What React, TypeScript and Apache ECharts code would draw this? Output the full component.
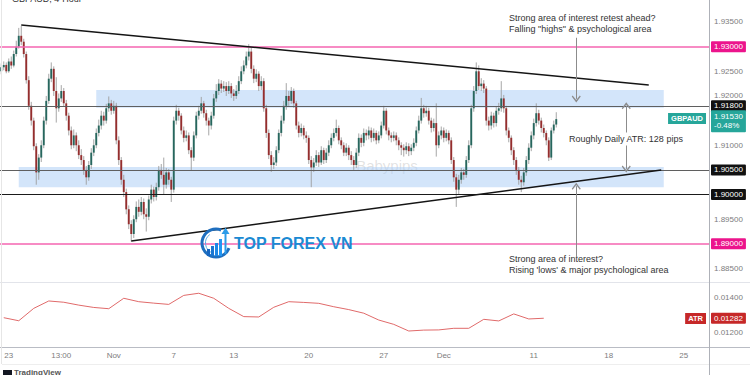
import React, { useEffect, useRef } from "react";
import * as echarts from "echarts";

const barCount = 284;
const xTickIndex = [3, 24, 45, 69, 93, 123, 153, 177, 213, 243, 273];
const xTickText = ["23", "13:00", "Nov", "7", "13", "20", "27", "Dec", "11", "18", "25"];

const priceMin = 1.88247;
const priceMax = 1.93946;
const priceTickLabels = [1.935, 1.925, 1.92, 1.91, 1.895, 1.885];
const atrMin = 0.01122;
const atrMax = 0.01478;
const atrTickLabels = [0.012, 0.014];

// GBPAUD 4-hour candles: [open, high, low, close]
const candles: number[][] = [
  [1.9250, 1.9266, 1.9244, 1.9258], [1.9258, 1.9270, 1.9252, 1.9263], [1.9263, 1.9268, 1.9246, 1.9250], [1.9250, 1.9276, 1.9247, 1.9270],
  [1.9270, 1.9280, 1.9255, 1.9262], [1.9262, 1.9292, 1.9258, 1.9285], [1.9285, 1.9312, 1.9280, 1.9300], [1.9300, 1.9338, 1.9296, 1.9322],
  [1.9322, 1.9342, 1.9303, 1.9310], [1.9310, 1.9316, 1.9278, 1.9285], [1.9285, 1.9290, 1.9225, 1.9232], [1.9232, 1.9240, 1.9172, 1.9180],
  [1.9180, 1.9188, 1.9140, 1.9150], [1.9150, 1.9156, 1.9090, 1.9098], [1.9098, 1.9104, 1.9020, 1.9045], [1.9045, 1.9082, 1.9030, 1.9075],
  [1.9075, 1.9110, 1.9066, 1.9100], [1.9100, 1.9158, 1.9094, 1.9150], [1.9150, 1.9200, 1.9142, 1.9190], [1.9190, 1.9245, 1.9184, 1.9235],
  [1.9235, 1.9268, 1.9228, 1.9255], [1.9255, 1.9260, 1.9200, 1.9210], [1.9210, 1.9238, 1.9146, 1.9175], [1.9175, 1.9205, 1.9168, 1.9195],
  [1.9195, 1.9222, 1.9188, 1.9210], [1.9210, 1.9216, 1.9178, 1.9185], [1.9185, 1.9192, 1.9150, 1.9160], [1.9160, 1.9166, 1.9120, 1.9130],
  [1.9130, 1.9138, 1.9092, 1.9100], [1.9100, 1.9132, 1.9094, 1.9120], [1.9120, 1.9126, 1.9088, 1.9100], [1.9100, 1.9110, 1.9072, 1.9080],
  [1.9080, 1.9092, 1.9060, 1.9070], [1.9070, 1.9078, 1.9040, 1.9050], [1.9050, 1.9058, 1.9020, 1.9035], [1.9035, 1.9068, 1.9028, 1.9060],
  [1.9060, 1.9094, 1.9052, 1.9085], [1.9085, 1.9112, 1.9078, 1.9100], [1.9100, 1.9134, 1.9094, 1.9125], [1.9125, 1.9152, 1.9118, 1.9140],
  [1.9140, 1.9170, 1.9132, 1.9160], [1.9160, 1.9168, 1.9140, 1.9150], [1.9150, 1.9184, 1.9144, 1.9175], [1.9175, 1.9199, 1.9168, 1.9185],
  [1.9185, 1.9192, 1.9162, 1.9170], [1.9170, 1.9190, 1.9164, 1.9180], [1.9180, 1.9186, 1.9102, 1.9110], [1.9110, 1.9118, 1.9060, 1.9070],
  [1.9070, 1.9076, 1.9020, 1.9030], [1.9030, 1.9040, 1.8995, 1.9005], [1.9005, 1.9012, 1.8960, 1.8970], [1.8970, 1.8978, 1.8930, 1.8940],
  [1.8940, 1.8948, 1.8905, 1.8920], [1.8920, 1.8958, 1.8912, 1.8950], [1.8950, 1.8986, 1.8944, 1.8975], [1.8975, 1.8990, 1.8955, 1.8965],
  [1.8965, 1.8995, 1.8958, 1.8985], [1.8985, 1.8992, 1.8950, 1.8960], [1.8960, 1.8972, 1.8925, 1.8955], [1.8955, 1.8998, 1.8948, 1.8990],
  [1.8990, 1.9020, 1.8982, 1.9010], [1.9010, 1.9016, 1.8986, 1.8995], [1.8995, 1.9024, 1.8988, 1.9015], [1.9015, 1.9058, 1.9008, 1.9050],
  [1.9050, 1.9062, 1.9032, 1.9040], [1.9040, 1.9075, 1.9000, 1.9020], [1.9020, 1.9054, 1.9012, 1.9045], [1.9045, 1.9052, 1.9020, 1.9030],
  [1.9030, 1.9036, 1.8985, 1.9010], [1.9010, 1.9158, 1.9004, 1.9150], [1.9150, 1.9182, 1.9142, 1.9170], [1.9170, 1.9176, 1.9150, 1.9160],
  [1.9160, 1.9165, 1.9122, 1.9130], [1.9130, 1.9138, 1.9106, 1.9115], [1.9115, 1.9130, 1.9108, 1.9120], [1.9120, 1.9126, 1.9082, 1.9090],
  [1.9090, 1.9096, 1.9048, 1.9075], [1.9075, 1.9128, 1.9068, 1.9120], [1.9120, 1.9168, 1.9114, 1.9160], [1.9160, 1.9180, 1.9152, 1.9170],
  [1.9170, 1.9198, 1.9164, 1.9185], [1.9185, 1.9190, 1.9156, 1.9165], [1.9165, 1.9172, 1.9140, 1.9150], [1.9150, 1.9156, 1.9120, 1.9140],
  [1.9140, 1.9168, 1.9132, 1.9160], [1.9160, 1.9204, 1.9154, 1.9195], [1.9195, 1.9224, 1.9188, 1.9210], [1.9210, 1.9234, 1.9202, 1.9225],
  [1.9225, 1.9232, 1.9206, 1.9215], [1.9215, 1.9230, 1.9208, 1.9220], [1.9220, 1.9228, 1.9200, 1.9210], [1.9210, 1.9230, 1.9204, 1.9220],
  [1.9220, 1.9226, 1.9196, 1.9205], [1.9205, 1.9214, 1.9190, 1.9200], [1.9200, 1.9222, 1.9194, 1.9210], [1.9210, 1.9240, 1.9204, 1.9230],
  [1.9230, 1.9260, 1.9224, 1.9250], [1.9250, 1.9272, 1.9244, 1.9262], [1.9262, 1.9290, 1.9256, 1.9280], [1.9280, 1.9305, 1.9272, 1.9290],
  [1.9290, 1.9298, 1.9246, 1.9255], [1.9255, 1.9262, 1.9226, 1.9235], [1.9235, 1.9254, 1.9228, 1.9245], [1.9245, 1.9250, 1.9210, 1.9220],
  [1.9220, 1.9240, 1.9212, 1.9230], [1.9230, 1.9236, 1.9168, 1.9175], [1.9175, 1.9182, 1.9115, 1.9125], [1.9125, 1.9132, 1.9072, 1.9080],
  [1.9080, 1.9088, 1.9046, 1.9060], [1.9060, 1.9076, 1.9052, 1.9065], [1.9065, 1.9098, 1.9058, 1.9090], [1.9090, 1.9132, 1.9084, 1.9125],
  [1.9125, 1.9160, 1.9118, 1.9150], [1.9150, 1.9190, 1.9144, 1.9180], [1.9180, 1.9226, 1.9172, 1.9200], [1.9200, 1.9210, 1.9180, 1.9190],
  [1.9190, 1.9218, 1.9184, 1.9210], [1.9210, 1.9215, 1.9176, 1.9185], [1.9185, 1.9190, 1.9132, 1.9140], [1.9140, 1.9148, 1.9116, 1.9125],
  [1.9125, 1.9144, 1.9118, 1.9135], [1.9135, 1.9140, 1.9112, 1.9120], [1.9120, 1.9128, 1.9105, 1.9115], [1.9115, 1.9120, 1.9062, 1.9070],
  [1.9070, 1.9078, 1.9015, 1.9055], [1.9055, 1.9074, 1.9046, 1.9065], [1.9065, 1.9090, 1.9058, 1.9080], [1.9080, 1.9086, 1.9056, 1.9065],
  [1.9065, 1.9098, 1.9060, 1.9090], [1.9090, 1.9095, 1.9062, 1.9070], [1.9070, 1.9094, 1.9064, 1.9085], [1.9085, 1.9110, 1.9078, 1.9100],
  [1.9100, 1.9124, 1.9094, 1.9115], [1.9115, 1.9134, 1.9108, 1.9125], [1.9125, 1.9152, 1.9118, 1.9135], [1.9135, 1.9140, 1.9102, 1.9110],
  [1.9110, 1.9116, 1.9092, 1.9100], [1.9100, 1.9106, 1.9078, 1.9085], [1.9085, 1.9104, 1.9078, 1.9095], [1.9095, 1.9100, 1.9070, 1.9080],
  [1.9080, 1.9088, 1.9060, 1.9070], [1.9070, 1.9078, 1.9050, 1.9060], [1.9060, 1.9094, 1.9054, 1.9085], [1.9085, 1.9124, 1.9078, 1.9115],
  [1.9115, 1.9122, 1.9096, 1.9105], [1.9105, 1.9134, 1.9098, 1.9125], [1.9125, 1.9132, 1.9110, 1.9120], [1.9120, 1.9138, 1.9112, 1.9130],
  [1.9130, 1.9136, 1.9106, 1.9115], [1.9115, 1.9134, 1.9108, 1.9125], [1.9125, 1.9130, 1.9102, 1.9110], [1.9110, 1.9128, 1.9104, 1.9120],
  [1.9120, 1.9148, 1.9114, 1.9140], [1.9140, 1.9180, 1.9134, 1.9170], [1.9170, 1.9175, 1.9122, 1.9130], [1.9130, 1.9136, 1.9110, 1.9120],
  [1.9120, 1.9126, 1.9106, 1.9115], [1.9115, 1.9128, 1.9108, 1.9120], [1.9120, 1.9126, 1.9100, 1.9110], [1.9110, 1.9116, 1.9090, 1.9100],
  [1.9100, 1.9106, 1.9080, 1.9095], [1.9095, 1.9102, 1.9077, 1.9090], [1.9090, 1.9106, 1.9082, 1.9098], [1.9098, 1.9104, 1.9078, 1.9088],
  [1.9088, 1.9102, 1.9080, 1.9095], [1.9095, 1.9114, 1.9088, 1.9105], [1.9105, 1.9138, 1.9098, 1.9130], [1.9130, 1.9160, 1.9124, 1.9150],
  [1.9150, 1.9196, 1.9144, 1.9175], [1.9175, 1.9182, 1.9156, 1.9165], [1.9165, 1.9180, 1.9158, 1.9170], [1.9170, 1.9176, 1.9142, 1.9150],
  [1.9150, 1.9156, 1.9126, 1.9135], [1.9135, 1.9154, 1.9128, 1.9145], [1.9145, 1.9185, 1.9077, 1.9100], [1.9100, 1.9128, 1.9094, 1.9120],
  [1.9120, 1.9138, 1.9112, 1.9130], [1.9130, 1.9136, 1.9106, 1.9115], [1.9115, 1.9132, 1.9108, 1.9125], [1.9125, 1.9130, 1.9102, 1.9110],
  [1.9110, 1.9116, 1.9062, 1.9070], [1.9070, 1.9076, 1.9026, 1.9035], [1.9035, 1.9042, 1.8975, 1.9010], [1.9010, 1.9040, 1.9000, 1.9030],
  [1.9030, 1.9054, 1.9022, 1.9045], [1.9045, 1.9052, 1.9030, 1.9040], [1.9040, 1.9078, 1.9034, 1.9070], [1.9070, 1.9110, 1.9064, 1.9100],
  [1.9100, 1.9182, 1.9094, 1.9175], [1.9175, 1.9220, 1.9168, 1.9210], [1.9210, 1.9268, 1.9204, 1.9250], [1.9250, 1.9262, 1.9212, 1.9220],
  [1.9220, 1.9236, 1.9210, 1.9225], [1.9225, 1.9232, 1.9206, 1.9215], [1.9215, 1.9220, 1.9140, 1.9150], [1.9150, 1.9158, 1.9130, 1.9140],
  [1.9140, 1.9168, 1.9132, 1.9160], [1.9160, 1.9166, 1.9136, 1.9145], [1.9145, 1.9178, 1.9138, 1.9170], [1.9170, 1.9186, 1.9162, 1.9175],
  [1.9175, 1.9230, 1.9168, 1.9195], [1.9195, 1.9202, 1.9166, 1.9175], [1.9175, 1.9180, 1.9120, 1.9130], [1.9130, 1.9136, 1.9106, 1.9115],
  [1.9115, 1.9120, 1.9080, 1.9090], [1.9090, 1.9096, 1.9060, 1.9070], [1.9070, 1.9076, 1.9040, 1.9050], [1.9050, 1.9056, 1.9020, 1.9030],
  [1.9030, 1.9038, 1.9005, 1.9025], [1.9025, 1.9054, 1.9018, 1.9045], [1.9045, 1.9078, 1.9038, 1.9070], [1.9070, 1.9104, 1.9062, 1.9095],
  [1.9095, 1.9128, 1.9088, 1.9120], [1.9120, 1.9154, 1.9112, 1.9145], [1.9145, 1.9185, 1.9138, 1.9165], [1.9165, 1.9172, 1.9142, 1.9150],
  [1.9150, 1.9156, 1.9126, 1.9135], [1.9135, 1.9142, 1.9116, 1.9125], [1.9125, 1.9130, 1.9100, 1.9110], [1.9110, 1.9116, 1.9068, 1.9075],
  [1.9075, 1.9136, 1.9070, 1.9130], [1.9130, 1.9150, 1.9124, 1.9142], [1.9142, 1.9167, 1.9136, 1.9153],
];

// Daily ATR sampled on the 4h bar index: [barIndex, atr]
const atrPoints: number[][] = [
  [1, 0.01285], [7, 0.01268], [13, 0.01337], [19, 0.01378], [25, 0.01371], [31, 0.01355], [37, 0.01342],
  [43, 0.01335], [49, 0.01393], [55, 0.01374], [61, 0.01366], [67, 0.01359], [73, 0.01409], [79, 0.01421],
  [85, 0.01393], [91, 0.01337], [97, 0.01291], [103, 0.01289], [109, 0.01343], [115, 0.01374], [121, 0.0137],
  [127, 0.01365], [133, 0.01346], [139, 0.0133], [145, 0.0131], [151, 0.01272], [157, 0.01248], [163, 0.01211],
  [169, 0.01216], [175, 0.01217], [181, 0.01226], [187, 0.01226], [193, 0.01276], [199, 0.01267], [205, 0.01306],
  [211, 0.01278], [217, 0.01282],
];

const pinkLevels = [1.93, 1.89];
const greyLevels = [1.918, 1.905];
const blackLevels = [1.9];
const upperTrend = [[8, 1.9344], [259, 1.9222]];
const lowerTrend = [[52, 1.8906], [264, 1.905]];
const zones = [[38, 1.9212, 265, 1.9176], [7, 1.9056, 265, 1.9015]];
const arrowDown = [[230, 1.9318], [230, 1.9194]];
const arrowUp = [[230, 1.8875], [230, 1.9017]];
const atrRangeArrow = [[250, 1.918], [250, 1.9052]];
const lastPrice = 1.9153;
const lastChange = -0.48;
const lastAtr = 0.01282;

const FONT = '"Liberation Sans", Arial, sans-serif';
const CHEVRON = "path://M0,0L5,6L4,7L0,2.4L-4,7L-5,6Z";
const HIDDEN_LINE = { color: "rgba(0,0,0,0)", width: 0, type: "solid" };

function levelLabel(bg: string) {
  return {
    show: true,
    position: "end" as const,
    distance: 1,
    color: "#fff",
    backgroundColor: bg,
    padding: [2, 3, 1, 3],
    borderRadius: 1,
    fontSize: 8,
    fontFamily: FONT,
    opacity: 1,
    formatter: (p: any) => Number(p.value).toFixed(5),
  };
}

export default function App() {
  const ref = useRef<HTMLDivElement>(null);

  useEffect(() => {
    if (!ref.current) return;
    const chart = echarts.init(ref.current, undefined, { renderer: "svg" });
    const cats = Array.from({ length: barCount }, (_, i) => String(i));
    const tickMap: Record<number, string> = {};
    xTickIndex.forEach((idx, k) => (tickMap[idx] = xTickText[k]));

    const near = (list: number[], v: number, eps: number) => list.some((t) => Math.abs(t - v) < eps);

    const markLineData: any[] = [];
    pinkLevels.forEach((v) =>
      markLineData.push({ yAxis: v, lineStyle: { color: "#f564b0", width: 1.5, type: "solid" }, label: levelLabel("#ec148c") })
    );
    greyLevels.forEach((v) =>
      markLineData.push({ yAxis: v, lineStyle: { color: "#5f5f5f", width: 1.2, type: "solid" }, label: levelLabel("#111111") })
    );
    blackLevels.forEach((v) =>
      markLineData.push({ yAxis: v, lineStyle: { color: "#1a1a1a", width: 1, type: "solid" }, label: levelLabel("#111111") })
    );
    [upperTrend, lowerTrend].forEach((t) =>
      markLineData.push([
        { coord: t[0], lineStyle: { color: "#151515", width: 1.5, type: "solid" }, label: { show: false } },
        { coord: t[1] },
      ])
    );
    [arrowDown, arrowUp].forEach((a) =>
      markLineData.push([
        { coord: a[0], symbol: "none", lineStyle: { color: "#8c8c8c", width: 1, type: "solid" }, label: { show: false } },
        { coord: a[1], symbol: CHEVRON, symbolSize: [9, 7] },
      ])
    );
    markLineData.push([
      { coord: atrRangeArrow[0], symbol: CHEVRON, symbolSize: [9, 7], lineStyle: { color: "#8c8c8c", width: 1, type: "solid" }, label: { show: false } },
      { coord: atrRangeArrow[1], symbol: CHEVRON, symbolSize: [9, 7] },
    ]);
    markLineData.push({
      yAxis: lastPrice,
      lineStyle: HIDDEN_LINE,
      label: {
        ...levelLabel("#26a69a"),
        padding: [2, 3, 2, 3],
        lineHeight: 9,
        offset: [0, 2],
        formatter: () => `${lastPrice.toFixed(5)}\n${lastChange.toFixed(2)}%`,
      },
    });

    const option: any = {
      animation: false,
      backgroundColor: "#ffffff",
      grid: [
        { left: 0, right: 40, top: 0, height: 281 },
        { left: 0, right: 40, top: 283, height: 64 },
      ],
      xAxis: [
        { gridIndex: 0, type: "category", data: cats, boundaryGap: true, show: false },
        {
          gridIndex: 1,
          type: "category",
          data: cats,
          boundaryGap: true,
          axisLine: { show: false },
          axisTick: { show: false },
          splitLine: { show: false },
          axisLabel: {
            interval: (i: number) => tickMap[i] !== undefined,
            formatter: (v: string) => tickMap[Number(v)] ?? "",
            color: "#7d7d7d",
            fontSize: 8,
            fontFamily: FONT,
            margin: 4,
          },
        },
      ],
      yAxis: [
        {
          gridIndex: 0,
          type: "value",
          position: "right",
          min: priceMin,
          max: priceMax,
          splitNumber: 11,
          axisLine: { show: false },
          axisTick: { show: false },
          splitLine: { show: false },
          axisLabel: {
            color: "#7d7d7d",
            fontSize: 8,
            fontFamily: FONT,
            margin: 4,
            formatter: (v: number) => (near(priceTickLabels, v, 1e-6) ? v.toFixed(5) : ""),
          },
        },
        {
          gridIndex: 1,
          type: "value",
          position: "right",
          min: atrMin,
          max: atrMax,
          splitNumber: 2,
          axisLine: { show: false },
          axisTick: { show: false },
          splitLine: { show: false },
          axisLabel: {
            color: "#7d7d7d",
            fontSize: 8,
            fontFamily: FONT,
            margin: 4,
            formatter: (v: number) => (near(atrTickLabels, v, 1e-7) ? v.toFixed(5) : ""),
          },
        },
      ],
      series: [
        {
          type: "custom",
          name: "GBPAUD",
          xAxisIndex: 0,
          yAxisIndex: 0,
          data: candles.map((d, i) => [i, d[0], d[1], d[2], d[3]]),
          encode: { x: 0, y: [1, 2, 3, 4] },
          z: 3,
          renderItem: (params: any, api: any) => {
            const i = api.value(0);
            const o = api.value(1);
            const h = api.value(2);
            const l = api.value(3);
            const c = api.value(4);
            const pO = api.coord([i, o]);
            const yC = api.coord([i, c])[1];
            const yH = api.coord([i, h])[1];
            const yL = api.coord([i, l])[1];
            const x = pO[0];
            const up = c >= o;
            const bw = 1.9;
            const top = Math.min(pO[1], yC);
            const ht = Math.max(Math.abs(pO[1] - yC), 0.8);
            return {
              type: "group",
              children: [
                { type: "line", shape: { x1: x, y1: yH, x2: x, y2: yL }, style: { stroke: "#9c9c9c", lineWidth: 0.9 } },
                { type: "rect", shape: { x: x - bw / 2, y: top, width: bw, height: ht }, style: { fill: up ? "#27675e" : "#952e2e" } },
              ],
            };
          },
          markArea: {
            silent: true,
            itemStyle: { color: "rgba(168, 204, 245, 0.5)", borderWidth: 0 },
            data: zones.map((z) => [{ xAxis: z[0], yAxis: z[1] }, { xAxis: z[2], yAxis: z[3] }]),
          },
          markLine: {
            silent: true,
            precision: 5,
            symbol: ["none", "none"],
            label: { show: false },
            data: markLineData,
          },
        },
        {
          type: "line",
          name: "ATR",
          xAxisIndex: 1,
          yAxisIndex: 1,
          data: atrPoints,
          showSymbol: false,
          lineStyle: { color: "#e06a6a", width: 1 },
          itemStyle: { color: "#e06a6a" },
          markLine: {
            silent: true,
            precision: 6,
            symbol: ["none", "none"],
            data: [
              {
                yAxis: lastAtr,
                lineStyle: HIDDEN_LINE,
                label: { ...levelLabel("#c62828") },
              },
            ],
          },
        },
      ],
      graphic: [
        { type: "line", shape: { x1: 0, y1: 282.5, x2: 750, y2: 282.5 }, style: { stroke: "#e2e4ea", lineWidth: 1 }, z: 50 },
        { type: "line", shape: { x1: 0, y1: 347.5, x2: 750, y2: 347.5 }, style: { stroke: "#b9bcc4", lineWidth: 1.2 }, z: 50 },
        { type: "line", shape: { x1: 2, y1: 364.5, x2: 750, y2: 364.5 }, style: { stroke: "#eeeeee", lineWidth: 1 }, z: 50 },
        { type: "line", shape: { x1: 1.5, y1: 0, x2: 1.5, y2: 364 }, style: { stroke: "#e6e6e6", lineWidth: 1 }, z: 50 },
        { type: "line", shape: { x1: 709.5, y1: 0, x2: 709.5, y2: 375 }, style: { stroke: "#aeb1b8", lineWidth: 1 }, z: 50 },
        {
          type: "text", x: 12, y: -6, z: 60,
          style: { text: "GBPAUD, 4-Hour", fontSize: 9, fontFamily: FONT, fill: "#333", verticalAlign: "top", align: "left" },
        },
        {
          type: "text", x: 509, y: 12.5, z: 60,
          style: {
            text: 'Strong area of interest retest ahead?\nFalling "highs" & psychological area',
            fontSize: 9, lineHeight: 11, fontFamily: FONT, fill: "#333", verticalAlign: "top", align: "left",
          },
        },
        {
          type: "text", x: 569, y: 139, z: 60,
          style: {
            text: "Roughly Daily ATR: 128 pips", fontSize: 9, fontFamily: FONT, fill: "#333",
            backgroundColor: "#ffffff", padding: [2, 0, 2, 0], verticalAlign: "middle", align: "left",
          },
        },
        {
          type: "text", x: 509, y: 253.5, z: 60,
          style: {
            text: "Strong area of interest?\nRising 'lows' & major psychological area",
            fontSize: 9, lineHeight: 11, fontFamily: FONT, fill: "#333", verticalAlign: "top", align: "left",
          },
        },
        {
          type: "text", x: 387, y: 165, z: 1,
          style: { text: "Babypips", fontSize: 15, fontFamily: FONT, fill: "rgba(150,150,150,0.28)", verticalAlign: "middle", align: "center" },
        },
        {
          type: "text", x: 234, y: 243, z: 60,
          style: { text: "TOP FOREX VN", fontSize: 16, fontWeight: "bold", fontFamily: FONT, fill: "#1b8ad3", verticalAlign: "middle", align: "left" },
        },
        {
          type: "arc", z: 60,
          shape: { cx: 216, cy: 243, r: 14, startAngle: Math.PI * 0.12, endAngle: Math.PI * 1.62, clockwise: true },
          style: { stroke: "#1f6fbf", lineWidth: 3, fill: "none" },
        },
        {
          type: "arc", z: 60,
          shape: { cx: 216, cy: 243, r: 10.5, startAngle: Math.PI * 0.6, endAngle: Math.PI * 1.3, clockwise: true },
          style: { stroke: "#5aa9e6", lineWidth: 1, fill: "none" },
        },
        { type: "rect", z: 60, shape: { x: 207, y: 249, width: 3, height: 7 }, style: { fill: "#1565c0" } },
        { type: "rect", z: 60, shape: { x: 211, y: 246, width: 3, height: 10 }, style: { fill: "#1976d2" } },
        { type: "rect", z: 60, shape: { x: 215, y: 243, width: 3, height: 13 }, style: { fill: "#1e88e5" } },
        { type: "rect", z: 60, shape: { x: 219, y: 239, width: 3, height: 17 }, style: { fill: "#2196f3" } },
        { type: "line", z: 60, shape: { x1: 225.5, y1: 254, x2: 225.5, y2: 233 }, style: { stroke: "#2c9be8", lineWidth: 2 } },
        { type: "polygon", z: 60, shape: { points: [[221.5, 234], [225.5, 227.5], [229.5, 234]] }, style: { fill: "#2c9be8" } },
        {
          type: "text", x: 706, y: 118.5, z: 60,
          style: {
            text: "GBPAUD", fontSize: 7.5, fontWeight: "bold", fontFamily: FONT, fill: "#fff",
            backgroundColor: "#26a69a", padding: [2, 3, 1, 3], verticalAlign: "middle", align: "right",
          },
        },
        {
          type: "text", x: 706, y: 318.5, z: 60,
          style: {
            text: "ATR", fontSize: 7.5, fontWeight: "bold", fontFamily: FONT, fill: "#fff",
            backgroundColor: "#c62828", padding: [2, 3, 1, 3], verticalAlign: "middle", align: "right",
          },
        },
        { type: "rect", z: 60, shape: { x: 3, y: 370, width: 9, height: 6 }, style: { fill: "#131722" } },
        {
          type: "text", x: 14, y: 368.5, z: 60,
          style: { text: "TradingView", fontSize: 8, fontWeight: "bold", fontFamily: FONT, fill: "#555", verticalAlign: "top", align: "left" },
        },
      ],
    };

    chart.setOption(option);
    return () => chart.dispose();
  }, []);

  return (
    <div
      ref={ref}
      style={{ position: "fixed", left: 0, top: 0, width: 750, height: 375, background: "#fff" }}
    />
  );
}
